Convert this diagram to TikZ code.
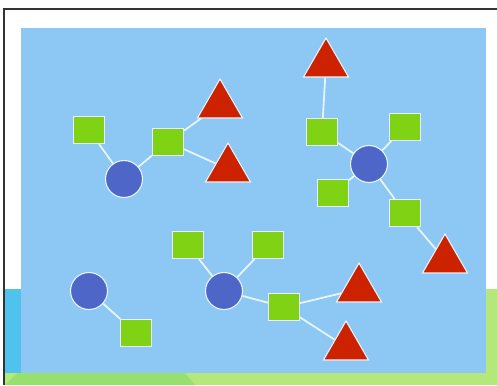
\documentclass[tikz,border=0pt]{standalone}
\usetikzlibrary{shapes.geometric}
\definecolor{skyb}{HTML}{8CC8F3}
\definecolor{circb}{HTML}{4F66C9}
\definecolor{sqg}{HTML}{80D214}
\definecolor{trir}{HTML}{CC2200}
\definecolor{lnw}{HTML}{E8F4FC}
\definecolor{gl}{HTML}{B4E87A}
\definecolor{gd}{HTML}{97DF6E}
\definecolor{cy}{HTML}{4FC3EE}
\tikzset{
  sq/.style={rectangle,fill=sqg,draw=lnw,line width=1.1pt,minimum width=31pt,minimum height=27pt,inner sep=0pt},
  circ/.style={circle,fill=circb,draw=lnw,line width=1.1pt,minimum size=37pt,inner sep=0pt},
  tri/.style={regular polygon,regular polygon sides=3,fill=trir,draw=lnw,line width=1.1pt,minimum size=52pt,inner sep=0pt},
  link/.style={draw=lnw,line width=1.8pt}
}
\begin{document}
\begin{tikzpicture}[x=1pt,y=-1pt]
\useasboundingbox (0,0) rectangle (497,385);
% background
\fill[white] (0,0) rectangle (497,385);
\fill[cy] (5,289) rectangle (21,385);
\fill[gl] (486,289) rectangle (497,385);
\fill[gl] (5,373) rectangle (497,385);
\fill[gd] (5,385) -- (18,373) -- (185,373) -- (195,385) -- cycle;
\fill[skyb] (21,28) rectangle (486,373);
\draw[black!80,line width=1.8pt] (497,9) -- (4,9) -- (4,385);
% group 1
\node[sq] (a) at (89,130) {};
\node[sq] (b) at (168,142) {};
\node[circ] (c1) at (124,179) {};
\node[tri] (t1) at (220,105) {};
\node[tri] (t2) at (228,169) {};
% group 2
\node[tri] (t3) at (326,64) {};
\node[sq] (sc) at (322,132) {};
\node[sq] (sd) at (405,127) {};
\node[circ] (c2) at (369,164) {};
\node[sq] (se) at (333,193) {};
\node[sq] (sf) at (405,213) {};
\node[tri] (t4) at (445,260) {};
% group 3
\node[sq] (sg) at (188,245) {};
\node[sq] (sh) at (268,245) {};
\node[circ] (c3) at (224,291) {};
\node[sq] (si) at (284,307) {};
\node[tri] (t5) at (359,289) {};
\node[tri] (t6) at (346,347) {};
% group 4
\node[circ] (c4) at (89,291) {};
\node[sq] (sj) at (136,333) {};
% links
\path[link] (a) -- (c1) (c1) -- (b) (b) -- (t1) (b) -- (t2);
\path[link] (t3) -- (sc) (sc) -- (c2) (sd) -- (c2) (c2) -- (se) (c2) -- (sf) (sf) -- (t4);
\path[link] (sg) -- (c3) (c3) -- (sh) (c3) -- (si) (si) -- (t5) (si) -- (t6);
\path[link] (c4) -- (sj);
\end{tikzpicture}
\end{document}
